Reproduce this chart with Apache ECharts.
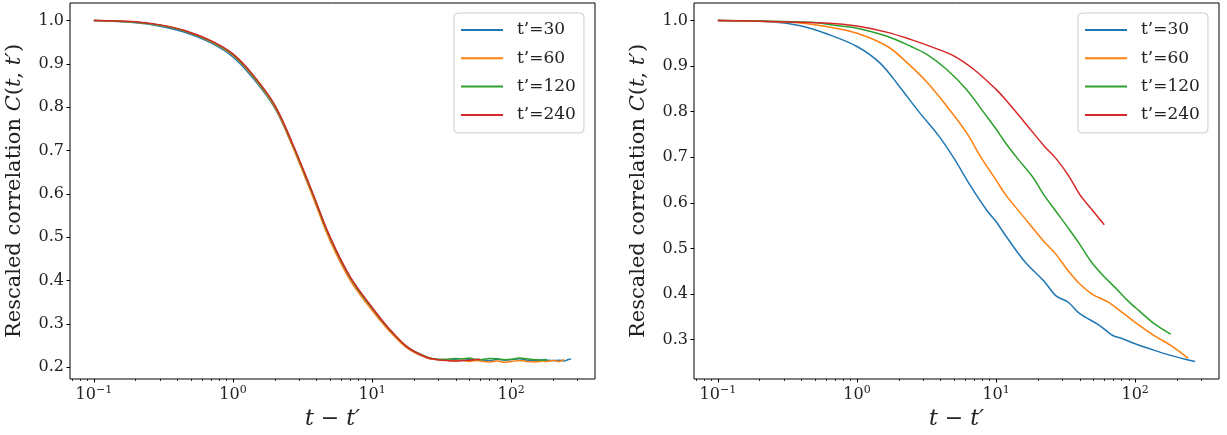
<!DOCTYPE html>
<html lang="en">
<head>
<meta charset="UTF-8">
<title>Rescaled correlation C(t,t')</title>
<script src="https://cdn.jsdelivr.net/npm/echarts@6/dist/echarts.min.js"></script>
<style>
    html, body {
        margin: 0;
        padding: 0;
        background: #fff;
    }

    #chart {
        width: 1227px;
        height: 435px;
    }
</style>
</head>
<body>
<div id="chart"></div>
<script>
    // waiting times and matplotlib default colours
    const seriesNames = ['t\u2019=30', 't\u2019=60', 't\u2019=120', 't\u2019=240'];
    const seriesColors = ['#1f77b4', '#ff7f0e', '#2ca02c', '#d62728'];

    // x ticks (log axis)
    const majorTicks = [0.1, 1, 10, 100];
    const minorTicks = [0.07, 0.08, 0.09, 0.2, 0.3, 0.4, 0.5, 0.6, 0.7, 0.8, 0.9,
        2, 3, 4, 5, 6, 7, 8, 9, 20, 30, 40, 50, 60, 70, 80, 90, 200, 300];
    const yTicksLeft = [0.2, 0.3, 0.4, 0.5, 0.6, 0.7, 0.8, 0.9, 1.0];
    const yTicksRight = [0.3, 0.4, 0.5, 0.6, 0.7, 0.8, 0.9, 1.0];

    // left panel: rescaled curves, one lag grid for all
    const lagLeft = [0.1, 0.2, 0.3, 0.45, 0.7, 1.0, 1.4, 2.0, 2.7, 3.7, 5.0, 7.0, 10, 13, 18, 25, 30,
        35, 40, 45, 50, 55, 60, 70, 80, 90, 100, 115, 130, 150, 170, 180, 200, 220, 240, 255, 270];
    const left30 = [1.0, 0.995, 0.987, 0.973, 0.948, 0.916, 0.866, 0.798, 0.708, 0.601, 0.496, 0.404, 0.335, 0.289, 0.244, 0.221, 0.217,
        0.216, 0.217, 0.215, 0.218, 0.216, 0.217, 0.215, 0.218, 0.216, 0.217, 0.219, 0.216, 0.215, 0.217, 0.216, 0.215, 0.216, 0.214, 0.217, 0.219];
    const left60 = [1.0, 0.996, 0.989, 0.976, 0.951, 0.920, 0.870, 0.800, 0.707, 0.598, 0.491, 0.399, 0.331, 0.287, 0.243, 0.221, 0.217,
        0.216, 0.214, 0.216, 0.213, 0.215, 0.214, 0.212, 0.214, 0.211, 0.213, 0.215, 0.213, 0.212, 0.214, 0.213, 0.215, 0.213, 0.218];
    const left120 = [1.0, 0.996, 0.989, 0.976, 0.952, 0.921, 0.872, 0.803, 0.712, 0.604, 0.498, 0.406, 0.337, 0.291, 0.246, 0.223, 0.218,
        0.218, 0.220, 0.219, 0.221, 0.218, 0.217, 0.220, 0.219, 0.217, 0.218, 0.221, 0.219, 0.217, 0.216, 0.218];
    const left240 = [1.0, 0.997, 0.990, 0.977, 0.953, 0.923, 0.874, 0.805, 0.714, 0.606, 0.500, 0.407, 0.338, 0.292, 0.246, 0.222, 0.217,
        0.215, 0.214, 0.215, 0.216, 0.217, 0.218];

    // right panel: raw curves
    const lagRight30 = [0.1, 0.24, 0.4, 0.59, 1.0, 1.46, 2.0, 2.8, 3.85, 5.0, 6.5, 8.7, 10, 11.6, 16, 22, 27, 33, 40, 55, 69, 81, 100, 136, 177, 229, 270];
    const right30 = [1.0, 0.997, 0.988, 0.972, 0.943, 0.907, 0.857, 0.799, 0.748, 0.697, 0.639, 0.581, 0.559, 0.530, 0.472, 0.429, 0.396, 0.382, 0.357, 0.332, 0.309, 0.302, 0.291, 0.277, 0.266, 0.257, 0.252];
    const lagRight60 = [0.1, 0.33, 0.6, 1.0, 1.66, 2.3, 3.2, 4.4, 6.1, 7.9, 10, 11.7, 16, 22, 27, 33, 40, 49, 64, 83, 100, 137, 179, 210, 240];
    const right60 = [1.0, 0.996, 0.987, 0.972, 0.943, 0.907, 0.864, 0.813, 0.755, 0.697, 0.650, 0.618, 0.567, 0.516, 0.487, 0.451, 0.422, 0.400, 0.382, 0.357, 0.338, 0.309, 0.288, 0.273, 0.259];
    const lagRight120 = [0.1, 0.46, 0.76, 1.0, 1.66, 2.45, 3.2, 4.4, 6.1, 8.5, 10, 11.6, 14.3, 18.6, 22, 27, 33, 40, 48, 59, 72, 88, 106, 137, 180];
    const right120 = [1.0, 0.996, 0.988, 0.983, 0.965, 0.943, 0.925, 0.893, 0.849, 0.791, 0.762, 0.733, 0.697, 0.654, 0.618, 0.581, 0.545, 0.509, 0.472, 0.440, 0.414, 0.386, 0.364, 0.335, 0.312];
    const lagRight240 = [0.1, 0.63, 1.0, 1.66, 2.45, 3.6, 5.0, 6.9, 10, 11.6, 16, 22, 27, 33, 40, 48, 60];
    const right240 = [1.0, 0.994, 0.988, 0.974, 0.958, 0.940, 0.922, 0.893, 0.849, 0.828, 0.777, 0.726, 0.697, 0.661, 0.618, 0.588, 0.552];

    const serif = '"DejaVu Serif", "Liberation Serif", serif';
    const ink = '#222';

    function zip(xs, ys) {
        return ys.map((y, i) => [xs[i], y]);
    }

    function powLabel(v) {
        const e = Math.round(Math.log10(v));
        return '{m|10}{e|' + (e < 0 ? '\u2212' + (-e) : e) + '}';
    }

    const powRich = {
        m: { fontFamily: serif, fontSize: 16, color: ink, lineHeight: 20 },
        e: { fontFamily: serif, fontSize: 11, color: ink, verticalAlign: 'top', lineHeight: 11 }
    };

    function majorX(gridIndex) {
        return {
            type: 'log', gridIndex: gridIndex, logBase: 10, min: 0.06736, max: 400.7,
            axisLine: { show: false },
            splitLine: { show: false },
            axisTick: { show: true, length: 3.5, customValues: majorTicks, lineStyle: { color: '#000', width: 1 } },
            axisLabel: { customValues: majorTicks, formatter: powLabel, rich: powRich, margin: 6 },
            name: 't \u2212 t\u2032', nameLocation: 'middle', nameGap: 29,
            nameTextStyle: { fontFamily: serif, fontSize: 22, fontStyle: 'italic', color: ink }
        };
    }

    function minorX(gridIndex) {
        return {
            type: 'log', gridIndex: gridIndex, logBase: 10, min: 0.06736, max: 400.7, position: 'bottom',
            axisLine: { show: false },
            splitLine: { show: false },
            axisTick: { show: true, length: 2, customValues: minorTicks, lineStyle: { color: '#000', width: 0.8 } },
            axisLabel: { show: false }
        };
    }

    function yAxisFor(gridIndex, min, max, ticks) {
        return {
            type: 'value', gridIndex: gridIndex, min: min, max: max,
            axisLine: { show: false },
            splitLine: { show: false },
            axisTick: { show: true, length: 3.5, customValues: ticks, lineStyle: { color: '#000', width: 1 } },
            axisLabel: {
                customValues: ticks, formatter: v => v.toFixed(1), margin: 6,
                fontFamily: serif, fontSize: 16, color: ink
            },
            name: '{r|Rescaled correlation }{i|C}{r|(}{i|t}{r|, }{i|t\u2032}{r|)}',
            nameLocation: 'middle', nameRotate: 90, nameGap: 45,
            nameTextStyle: {
                fontFamily: serif, fontSize: 21, color: ink,
                rich: {
                    r: { fontFamily: serif, fontSize: 21, color: ink },
                    i: { fontFamily: serif, fontSize: 21, color: ink, fontStyle: 'italic' }
                }
            }
        };
    }

    function legendAt(left) {
        return {
            orient: 'vertical', left: left, top: 13,
            icon: 'rect', itemWidth: 42, itemHeight: 2, itemGap: 8.3,
            padding: [7, 8, 8, 7],
            backgroundColor: 'rgba(255,255,255,0.8)', borderColor: '#cccccc', borderWidth: 1, borderRadius: 4,
            selectedMode: false,
            textStyle: { fontFamily: serif, fontSize: 17, color: ink, lineHeight: 20, padding: [0, 0, 0, 9] },
            data: seriesNames
        };
    }

    function lineSeries(i, xIdx, yIdx, data) {
        return {
            type: 'line', name: seriesNames[i], xAxisIndex: xIdx, yAxisIndex: yIdx,
            data: data, showSymbol: false, symbol: 'none',
            smooth: 0.35,
            lineStyle: { color: seriesColors[i], width: 1.5 },
            itemStyle: { color: seriesColors[i] },
            z: 2 + i
        };
    }

    const chart = echarts.init(document.getElementById('chart'), null, { renderer: 'canvas' });
    chart.setOption({
        animation: false,
        backgroundColor: '#fff',
        legend: [legendAt(454), legendAt(1078)],
        grid: [
            { left: 70, top: 3, width: 525, height: 380, show: true, borderColor: '#000', borderWidth: 1, containLabel: false },
            { left: 694, top: 3, width: 525, height: 380, show: true, borderColor: '#000', borderWidth: 1, containLabel: false }
        ],
        xAxis: [majorX(0), minorX(0), majorX(1), minorX(1)],
        yAxis: [
            yAxisFor(0, 0.1725, 1.0405, yTicksLeft),
            yAxisFor(1, 0.2136, 1.0384, yTicksRight)
        ],
        series: [
            lineSeries(0, 0, 0, zip(lagLeft, left30)),
            lineSeries(1, 0, 0, zip(lagLeft, left60)),
            lineSeries(2, 0, 0, zip(lagLeft, left120)),
            lineSeries(3, 0, 0, zip(lagLeft, left240)),
            lineSeries(0, 2, 1, zip(lagRight30, right30)),
            lineSeries(1, 2, 1, zip(lagRight60, right60)),
            lineSeries(2, 2, 1, zip(lagRight120, right120)),
            lineSeries(3, 2, 1, zip(lagRight240, right240))
        ]
    });
</script>
</body>
</html>
